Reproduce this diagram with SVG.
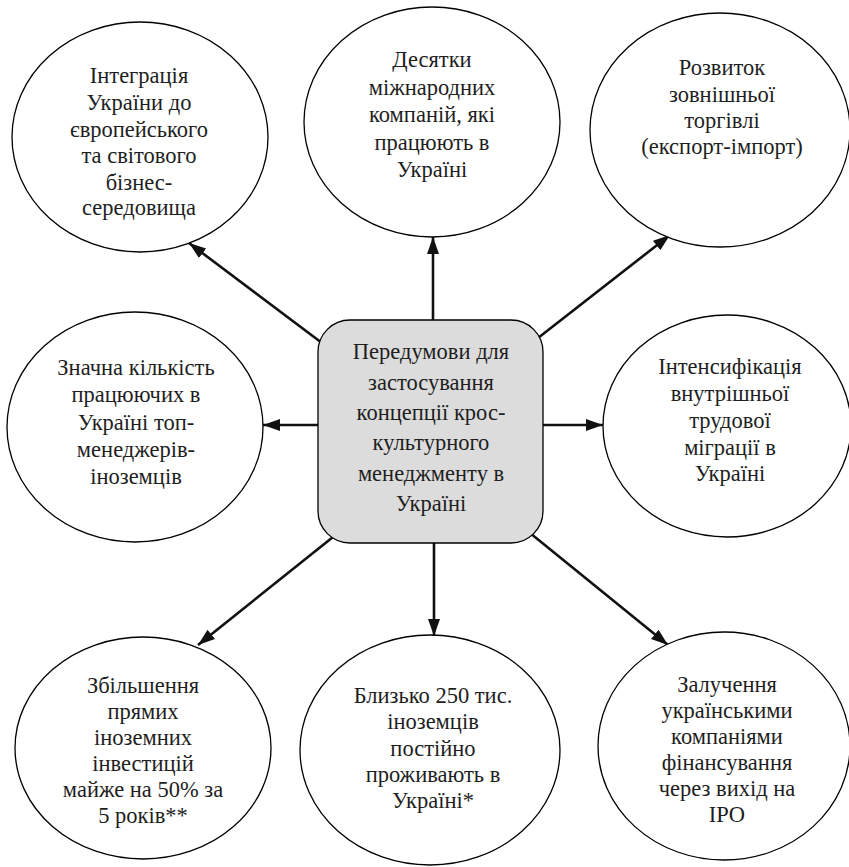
<svg xmlns="http://www.w3.org/2000/svg" width="849" height="867" viewBox="0 0 849 867">
<style>
.n ellipse{fill:#fff;stroke:#000;stroke-width:1.3}
.c rect{fill:#dcdcdc;stroke:#000;stroke-width:1.3}
text{font-family:'Liberation Serif','Times New Roman',serif;font-size:22.5px;fill:#1e1e1e;text-anchor:middle}
.e line{stroke:#111;stroke-width:2.6;marker-end:url(#ah)}
</style>
<defs>
<marker id="ah" markerUnits="userSpaceOnUse" markerWidth="18" markerHeight="14" viewBox="0 0 18 14" refX="17" refY="7" orient="auto">
<path d="M0,1 L17,7 L0,13 Z" fill="#111"/>
</marker>
</defs>
<rect width="849" height="867" fill="#fff"/>
<g class="e" id="connectors">
<line x1="322" y1="343" x2="189" y2="243"/>
<line x1="433" y1="320" x2="433" y2="237"/>
<line x1="538" y1="338" x2="670" y2="235"/>
<line x1="318" y1="425" x2="263" y2="425"/>
<line x1="543" y1="425" x2="603" y2="425"/>
<line x1="333" y1="537" x2="198" y2="645"/>
<line x1="434" y1="543" x2="434" y2="636"/>
<line x1="530" y1="533" x2="668" y2="645"/>
</g>
<g class="c" id="center">
<rect x="318" y="320" width="225" height="223" rx="32" ry="32"/>
<text x="431" y="359">Передумови для</text>
<text x="431" y="390">застосування</text>
<text x="431" y="420">концепції крос-</text>
<text x="431" y="450">культурного</text>
<text x="431" y="481">менеджменту в</text>
<text x="431" y="511">Україні</text>
</g>
<g class="n" id="n1">
<ellipse cx="140" cy="137" rx="128" ry="115"/>
<text x="139" y="83">Інтеграція</text>
<text x="139" y="110">України до</text>
<text x="139" y="137">європейського</text>
<text x="139" y="163">та світового</text>
<text x="139" y="190">бізнес-</text>
<text x="139" y="215">середовища</text>
</g>
<g class="n" id="n2">
<ellipse cx="432" cy="122" rx="128" ry="115"/>
<text x="432" y="67">Десятки</text>
<text x="432" y="95">міжнародних</text>
<text x="432" y="122">компаній, які</text>
<text x="432" y="150">працюють в</text>
<text x="432" y="177">Україні</text>
</g>
<g class="n" id="n3">
<ellipse cx="720" cy="130" rx="130" ry="117"/>
<text x="722" y="75">Розвиток</text>
<text x="722" y="102">зовнішньої</text>
<text x="722" y="128">торгівлі</text>
<text x="722" y="154">(експорт-імпорт)</text>
</g>
<g class="n" id="n4">
<ellipse cx="135" cy="427" rx="128" ry="115"/>
<text x="136" y="375">Значна кількість</text>
<text x="136" y="402">працюючих в</text>
<text x="136" y="430">Україні топ-</text>
<text x="136" y="457">менеджерів-</text>
<text x="136" y="484">іноземців</text>
</g>
<g class="n" id="n5">
<ellipse cx="727" cy="426" rx="124" ry="111"/>
<text x="730" y="374">Інтенсифікація</text>
<text x="730" y="401">внутрішньої</text>
<text x="730" y="428">трудової</text>
<text x="730" y="455">міграції в</text>
<text x="730" y="481">Україні</text>
</g>
<g class="n" id="n6">
<ellipse cx="143" cy="748" rx="128" ry="111"/>
<text x="143" y="693">Збільшення</text>
<text x="143" y="719">прямих</text>
<text x="143" y="745">іноземних</text>
<text x="143" y="771">інвестицій</text>
<text x="143" y="797">майже на 50% за</text>
<text x="143" y="823">5 років**</text>
</g>
<g class="n" id="n7">
<ellipse cx="430" cy="750" rx="130" ry="115"/>
<text x="433" y="703">Близько 250 тис.</text>
<text x="433" y="729">іноземців</text>
<text x="433" y="756">постійно</text>
<text x="433" y="782">проживають в</text>
<text x="433" y="808">Україні*</text>
</g>
<g class="n" id="n8">
<ellipse cx="724" cy="746" rx="126" ry="114"/>
<text x="727" y="692">Залучення</text>
<text x="727" y="718">українськими</text>
<text x="727" y="744">компаніями</text>
<text x="727" y="770">фінансування</text>
<text x="727" y="796">через вихід на</text>
<text x="727" y="822">IPO</text>
</g>
</svg>
